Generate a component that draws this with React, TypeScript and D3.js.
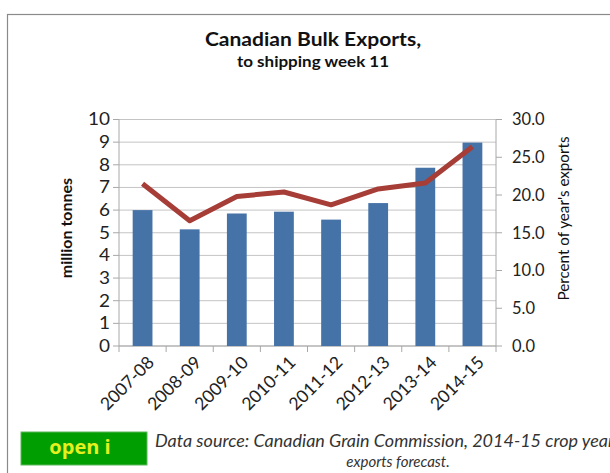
import React from "react";
import * as d3 from "d3";

const categories = ["2007-08", "2008-09", "2009-10", "2010-11", "2011-12", "2012-13", "2013-14", "2014-15"];
const exportsMt = [6.0, 5.15, 5.85, 5.93, 5.58, 6.31, 7.87, 8.98];
const pctOfYear = [21.5, 16.6, 19.8, 20.4, 18.7, 20.8, 21.6, 26.4];
const leftTicks = [0, 1, 2, 3, 4, 5, 6, 7, 8, 9, 10];
const rightTicks = [0, 5, 10, 15, 20, 25, 30];

const FONT = "Lato, 'Open Sans', sans-serif";

export default function App() {
  const W = 610, H = 473;
  const x0 = 119, x1 = 496, yTop = 119.5, yBot = 346;
  const x = d3.scaleBand<string>().domain(categories).range([x0, x1]).paddingInner(0.58).paddingOuter(0.29);
  const band = d3.scaleBand<string>().domain(categories).range([x0, x1]);
  const yL = d3.scaleLinear().domain([0, 10]).range([yBot, yTop]);
  const yR = d3.scaleLinear().domain([0, 30]).range([yBot, yTop]);
  const line = d3.line<number>()
    .x((_, i) => (band(categories[i]) as number) + band.bandwidth() / 2)
    .y((d) => yR(d));
  const boundaries = categories.map((c) => band(c) as number).concat([x1]);

  return (
    <svg width={W} height={H} style={{ position: "absolute", left: 0, top: 0, background: "#fff" }} fontFamily={FONT}>
      <rect x={0} y={0} width={W} height={H} fill="#fff" />
      <rect x={7.5} y={14.5} width={W + 20} height={H + 20} fill="none" stroke="#8a8a8a" strokeWidth={1.2} />
      <g transform="translate(313,46) scale(1.08,1)">
        <text x={0} y={0} textAnchor="middle" fontSize={19.5} fontWeight={700} fill="#111">Canadian Bulk Exports,</text>
      </g>
      <g transform="translate(313,66.5) scale(1.12,1)">
        <text x={0} y={0} textAnchor="middle" fontSize={15.2} fontWeight={700} fill="#111">to shipping week 11</text>
      </g>

      {/* gridlines */}
      {leftTicks.map((t) => (
        <line key={"g" + t} x1={x0} x2={x1} y1={yL(t)} y2={yL(t)} stroke="#c4c4c4" strokeWidth={1} />
      ))}
      {/* left axis */}
      <line x1={x0} x2={x0} y1={yTop} y2={yBot} stroke="#a8a8a8" strokeWidth={1} />
      {leftTicks.map((t) => (
        <g key={"l" + t}>
          <line x1={x0 - 6} x2={x0} y1={yL(t)} y2={yL(t)} stroke="#a8a8a8" />
          <g transform={`translate(110,${yL(t)}) scale(1.15,1)`}>
            <text x={0} y={0} dy="0.36em" textAnchor="end" fontSize={16.5} fill="#222">{t}</text>
          </g>
        </g>
      ))}
      {/* right axis */}
      <line x1={x1} x2={x1} y1={yTop} y2={yBot} stroke="#a8a8a8" strokeWidth={1} />
      {rightTicks.map((t) => (
        <g key={"r" + t}>
          <line x1={x1} x2={x1 + 6} y1={yR(t)} y2={yR(t)} stroke="#a8a8a8" />
          <text x={512} y={yR(t)} dy="0.36em" textAnchor="start" fontSize={16.5} fill="#222">{t.toFixed(1)}</text>
        </g>
      ))}
      {/* x axis */}
      <line x1={x0} x2={x1} y1={yBot} y2={yBot} stroke="#a8a8a8" />
      {boundaries.map((b, i) => (
        <line key={"xt" + i} x1={b} x2={b} y1={yBot} y2={yBot + 6} stroke="#a8a8a8" />
      ))}

      {/* bars */}
      {categories.map((c, i) => (
        <rect key={c} x={x(c)} y={yL(exportsMt[i])} width={x.bandwidth()} height={yBot - yL(exportsMt[i])} fill="#4572A7" />
      ))}
      {/* line */}
      <path d={line(pctOfYear) || ""} fill="none" stroke="#A63D37" strokeWidth={5} strokeLinejoin="round" strokeLinecap="butt" />

      {/* x labels */}
      {categories.map((c) => {
        const cx = (band(c) as number) + band.bandwidth() / 2 + 4;
        return (
          <text key={"xl" + c} x={0} y={0} transform={`translate(${cx},${yBot + 9}) rotate(-45)`} textAnchor="end" dy="0.7em" fontSize={17.5} fill="#222">{c}</text>
        );
      })}

      {/* axis titles */}
      <text transform="translate(72,228) rotate(-90)" textAnchor="middle" fontSize={16} fontWeight={700} fill="#111">million tonnes</text>
      <text transform="translate(569,218.5) rotate(-90)" textAnchor="middle" fontSize={15.2} fill="#111">Percent of year's exports</text>

      {/* footer */}
      <rect x={21} y={432} width={126} height={33} fill="#009E00" stroke="#5db85d" strokeWidth={1} />
      <text x={80} y={454} textAnchor="middle" fontSize={20} fontWeight={700} fill="#E6F01E" fontFamily="'Open Sans', sans-serif">open i</text>
      <g transform="translate(155,446.5) scale(1.09,1)">
        <text x={0} y={0} textAnchor="start" fontSize={16.5} fontStyle="italic" fill="#333">Data source: Canadian Grain Commission, 2014-15 crop year</text>
      </g>
      <text x={398} y={466.5} textAnchor="middle" fontSize={15} fontStyle="italic" fill="#333">exports forecast.</text>
    </svg>
  );
}
